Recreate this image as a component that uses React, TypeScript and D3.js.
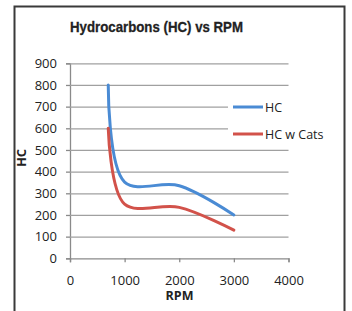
import * as d3 from 'd3';
import { useEffect, useRef } from 'react';

const rpm = [700, 1000, 2000, 3000];
const hcValues = [800, 352, 335, 200];
const hcCatsValues = [600, 250, 235, 130];
const seriesNames = ['HC', 'HC w Cats'];
const seriesColors = ['#4a8bd4', '#d2524a'];
const xTickValues = [0, 1000, 2000, 3000, 4000];
const yTickValues = [0, 100, 200, 300, 400, 500, 600, 700, 800, 900];

const width = 352;
const height = 311;
const plot = { left: 70, right: 288.5, top: 63.3, bottom: 258.3 };
const labelFont = '"Open Sans", "Liberation Sans", sans-serif';

export default function App() {
  const svgRef = useRef<SVGSVGElement>(null);

  useEffect(() => {
    const svgEl = d3.select(svgRef.current!);
    svgEl.selectAll('*').remove();

    const xScale = d3.scaleLinear().domain([0, 4000]).range([plot.left, plot.right]);
    const yScale = d3.scaleLinear().domain([0, 900]).range([plot.bottom, plot.top]);

    svgEl.append('rect').attr('width', width).attr('height', height).attr('fill', '#fff');

    // outer frame, bottom edge is cut off by the picture
    svgEl
      .append('rect')
      .attr('x', 14.5)
      .attr('y', 6.5)
      .attr('width', 330)
      .attr('height', 320)
      .attr('fill', 'none')
      .attr('stroke', '#3a3a3a')
      .attr('stroke-width', 2);

    svgEl
      .append('text')
      .attr('x', 156.5)
      .attr('y', 32)
      .attr('text-anchor', 'middle')
      .attr('font-family', '"Liberation Sans Narrow", "Liberation Sans", sans-serif')
      .attr('font-weight', 'bold')
      .attr('font-size', 15.5)
      .attr('textLength', 173)
      .attr('lengthAdjust', 'spacingAndGlyphs')
      .attr('fill', '#222')
      .attr('stroke', '#222')
      .attr('stroke-width', 0.3)
      .text('Hydrocarbons (HC) vs RPM');

    // y axis with grid
    svgEl
      .append('g')
      .attr('transform', `translate(${plot.left},0)`)
      .call(d3.axisLeft(yScale).tickValues(yTickValues).tickSize(4).tickPadding(9))
      .call((g) => {
        g.select('.domain').attr('stroke', '#8a8a8a').attr('stroke-width', 1.3);
        g.selectAll('.tick > line').attr('stroke', '#8a8a8a').attr('stroke-width', 1.3);
        g.selectAll('.tick')
          .filter((d) => d !== 0)
          .append('line')
          .attr('x2', plot.right - plot.left)
          .attr('stroke', '#a0a0a0')
          .attr('stroke-width', 1.3);
        g.selectAll('.tick > text')
          .attr('font-family', labelFont)
          .attr('font-size', 13)
          .attr('fill', '#222');
      });

    // x axis
    svgEl
      .append('g')
      .attr('transform', `translate(0,${plot.bottom})`)
      .call(
        d3
          .axisBottom(xScale)
          .tickValues(xTickValues)
          .tickFormat(d3.format('d'))
          .tickSize(4)
          .tickPadding(13)
      )
      .call((g) => {
        g.select('.domain').attr('stroke', '#8a8a8a').attr('stroke-width', 1.3);
        g.selectAll('.tick > line').attr('stroke', '#8a8a8a').attr('stroke-width', 1.3);
        g.selectAll('.tick > text')
          .attr('font-family', labelFont)
          .attr('font-size', 13)
          .attr('fill', '#222');
      });

    svgEl
      .append('text')
      .attr('x', 179.5)
      .attr('y', 300)
      .attr('text-anchor', 'middle')
      .attr('font-family', labelFont)
      .attr('font-weight', 'bold')
      .attr('font-size', 12.5)
      .attr('fill', '#222')
      .text('RPM');

    svgEl
      .append('text')
      .attr('transform', 'translate(25.5,158) rotate(-90)')
      .attr('text-anchor', 'middle')
      .attr('font-family', labelFont)
      .attr('font-weight', 'bold')
      .attr('font-size', 13)
      .attr('fill', '#222')
      .text('HC');

    const seriesData = [hcValues, hcCatsValues].map((values) =>
      rpm.map((r, i) => [r, values[i]] as [number, number])
    );

    const line = d3
      .line<[number, number]>()
      .x((d) => xScale(d[0]))
      .y((d) => yScale(d[1]))
      .curve(d3.curveCatmullRom);

    svgEl
      .append('g')
      .selectAll('path')
      .data(seriesData)
      .enter()
      .append('path')
      .attr('d', (d) => line(d))
      .attr('fill', 'none')
      .attr('stroke', (_, i) => seriesColors[i])
      .attr('stroke-width', 3)
      .attr('stroke-linecap', 'round');

    // legend
    const legend = svgEl.append('g');
    legend
      .append('rect')
      .attr('x', 228)
      .attr('y', 95)
      .attr('width', 104)
      .attr('height', 50)
      .attr('fill', '#fff');
    const items = legend
      .selectAll('g')
      .data(seriesNames)
      .enter()
      .append('g')
      .attr('transform', (_, i) => `translate(233,${107 + i * 27})`);
    items
      .append('line')
      .attr('x2', 30)
      .attr('stroke', (_, i) => seriesColors[i])
      .attr('stroke-width', 3);
    items
      .append('text')
      .attr('x', 32)
      .attr('y', 4.5)
      .attr('font-family', labelFont)
      .attr('font-size', 12.5)
      .attr('fill', '#222')
      .text((d) => d);
  }, []);

  return (
    <svg
      ref={svgRef}
      width={width}
      height={height}
      style={{ position: 'absolute', left: 0, top: 0 }}
    />
  );
}
